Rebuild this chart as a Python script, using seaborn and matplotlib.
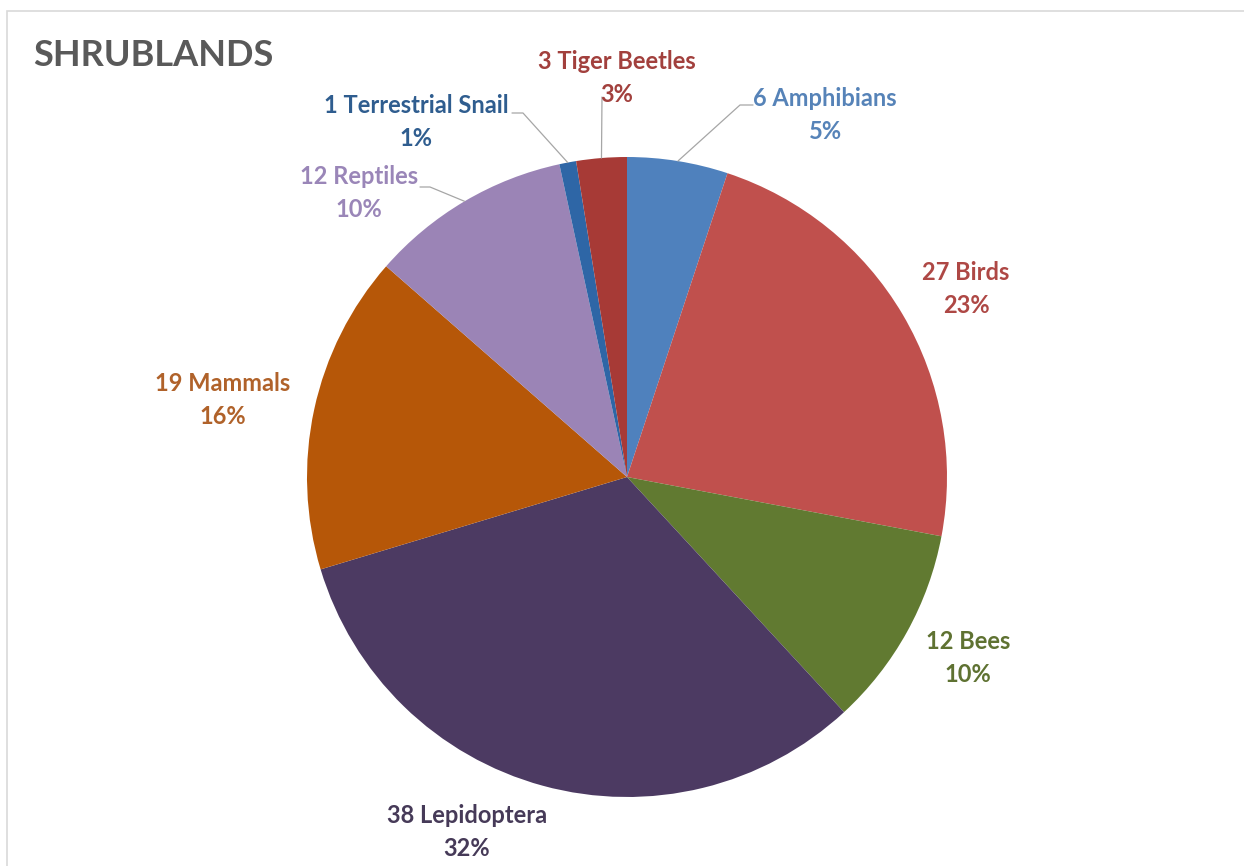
import matplotlib
matplotlib.use("Agg")
import matplotlib.pyplot as plt
import seaborn as sns
import numpy as np
from matplotlib.patches import Rectangle

# Data
groups = ["Amphibians", "Birds", "Bees", "Lepidoptera", "Mammals",
          "Reptiles", "Terrestrial Snail", "Tiger Beetles"]
counts = [6, 27, 12, 38, 19, 12, 1, 3]

slice_colors = ["#4F81BD", "#C0504D", "#617A31", "#4C3A62",
                "#B65708", "#9B84B6", "#2E66A6", "#A73A36"]
label_colors = ["#5683B8", "#AE4845", "#5F7232", "#463A58",
                "#B0622A", "#9A86B8", "#2F5D8F", "#A2403D"]

# label centres in pixels (y down from top)
label_xy = [(825, 115), (966, 289), (968, 658), (467, 832),
            (223, 400), (359, 193), (416, 122), (617, 78)]
# leader lines: points from the text to the bend, None = no line
leaders = [[(753, 105), (740, 105)], None, None, None, None,
           [(420, 187), (430, 187)], [(512, 113), (523, 113)], [(602, 97)]]

W, H = 1244, 866
cx, cy, R = 627, 477, 320


def fy(y):
    return H - y


sns.set_theme(style="white")
plt.rcParams["font.family"] = ["Lato", "DejaVu Sans"]

fig = plt.figure(figsize=(W / 100, H / 100), dpi=100)
ax = fig.add_axes([0, 0, 1, 1])

wedges, _ = ax.pie(
    counts,
    colors=slice_colors,
    startangle=90,
    counterclock=False,
    center=(cx, fy(cy)),
    radius=R,
    wedgeprops=dict(linewidth=0),
)
ax.set_xlim(0, W)
ax.set_ylim(0, H)
ax.set_aspect("auto")
ax.axis("off")

# thin chart frame
ax.add_patch(Rectangle((7, fy(1000)), 1400, 1000 - 11, fill=False,
                       edgecolor="#D9D9D9", linewidth=1.2))

# title
ax.text(33, fy(55), "SHRUBLANDS", fontsize=26, fontweight="bold",
        color="#595959", ha="left", va="center")

total = sum(counts)
for w, name, n, col, (lx, ly), lead in zip(wedges, groups, counts, label_colors, label_xy, leaders):
    pct = round(100 * n / total)
    ax.text(lx, fy(ly), f"{n} {name}\n{pct}%", fontsize=17, fontweight="bold",
            color=col, ha="center", va="center", linespacing=1.52)
    if lead is not None:
        mid = np.deg2rad((w.theta1 + w.theta2) / 2)
        end = (cx + R * np.cos(mid), fy(cy) + R * np.sin(mid))
        xs = [p[0] for p in lead] + [end[0]]
        ys = [fy(p[1]) for p in lead] + [end[1]]
        ax.plot(xs, ys, color="#A6A6A6", linewidth=0.9)

fig.savefig("out.png", dpi=100)
